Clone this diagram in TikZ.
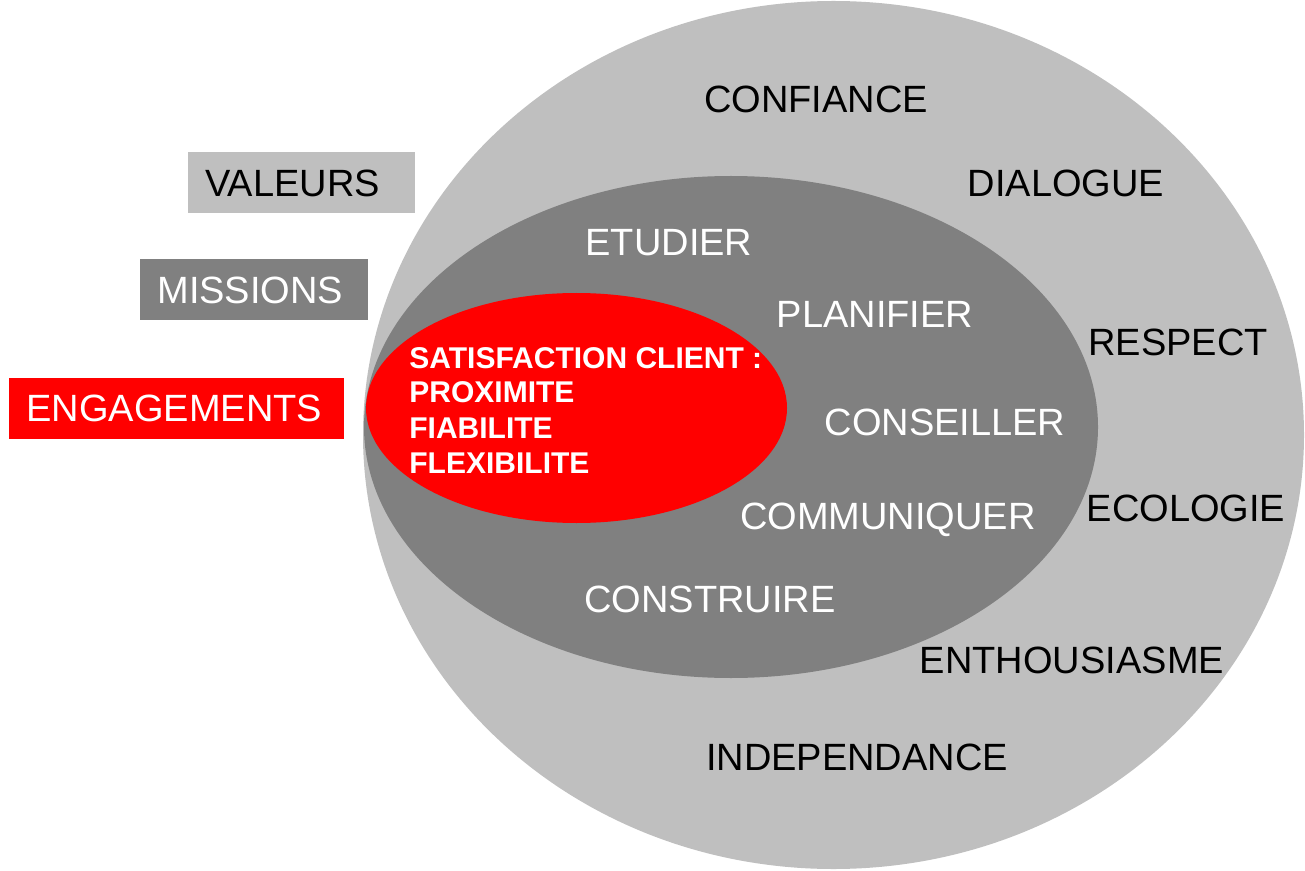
\documentclass[tikz,border=0pt]{standalone}
\usepackage{fontspec}
\setmainfont{Liberation Sans}
\usetikzlibrary{positioning,shapes.geometric}
\definecolor{lgray}{RGB}{191,191,191}
\definecolor{dgray}{RGB}{128,128,128}
\definecolor{dred}{RGB}{255,0,0}
\tikzstyle{ring} = [ellipse, draw=none, inner sep=0pt]
\tikzstyle{tag} = [rectangle, anchor=west, inner xsep=8.5pt, inner ysep=0pt,
  minimum height=30.5pt, align=left, text height=13.6pt, text depth=0pt,
  font=\fontsize{19}{23}\selectfont]
\tikzstyle{word} = [inner sep=0pt, text height=13.6pt, text depth=0pt,
  font=\fontsize{19}{23}\selectfont]
\tikzstyle{bold} = [word, anchor=west, text=white, text height=10.7pt,
  font=\fontsize{15}{18}\selectfont\bfseries]

\begin{document}
\begin{tikzpicture}[x=0.5pt, y=-0.5pt]
  \useasboundingbox (0,0) rectangle (1305,871);
  % the three rings
  \node [ring, fill=lgray, minimum width=470.5pt, minimum height=434pt] (outer) at (833.5,435) {};
  \node [ring, fill=dgray, minimum width=367pt, minimum height=251pt] (middle) at (731,427) {};
  \node [ring, fill=dred, minimum width=210.5pt, minimum height=115pt] (core) at (576.5,408) {};

  % legend boxes
  \node [tag, fill=lgray, text width=96.5pt] (valeurs) at (188,182.5) {VALEURS};
  \node [tag, fill=dgray, text=white, text width=97pt] (missions) at (140,289.5) {MISSIONS};
  \node [tag, fill=dred, text=white, text width=150.5pt] (engagements) at (9,408) {ENGAGEMENTS};

  % values
  \node [word] (confiance) at (816,99) {CONFIANCE};
  \node [word] (dialogue) at (1066,183) {DIALOGUE};
  \node [word] (respect) at (1178,342) {RESPECT};
  \node [word] (ecologie) at (1186,508) {ECOLOGIE};
  \node [word] (enthousiasme) at (1072,660) {ENTHOUSIASME};
  \node [word] (independance) at (857,757) {INDEPENDANCE};

  % missions
  \node [word, text=white] (etudier) at (669,242) {ETUDIER};
  \node [word, text=white] (planifier) at (875,314) {PLANIFIER};
  \node [word, text=white] (conseiller) at (945,422) {CONSEILLER};
  \node [word, text=white] (communiquer) at (888,516) {COMMUNIQUER};
  \node [word, text=white] (construire) at (710,599) {CONSTRUIRE};

  % engagements
  \node [bold] (satisf) at (409,358) {SATISFACTION CLIENT :};
  \node [bold] (proxi) at (409,392) {PROXIMITE};
  \node [bold] (fiab) at (409,428) {FIABILITE};
  \node [bold] (flex) at (409,463) {FLEXIBILITE};
\end{tikzpicture}
\end{document}
